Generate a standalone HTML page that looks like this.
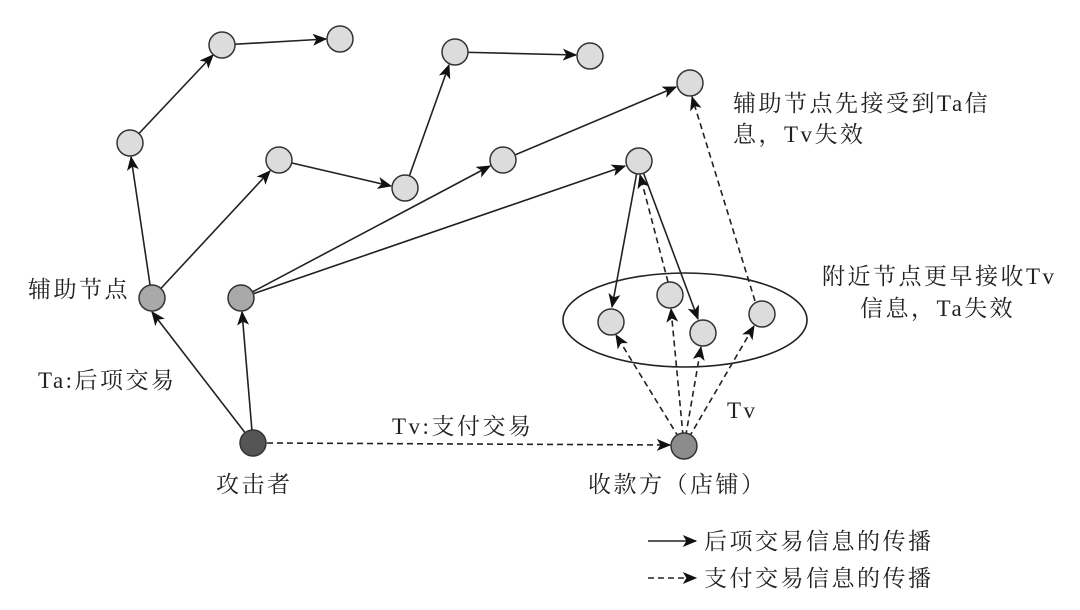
<!DOCTYPE html>
<html><head><meta charset="utf-8"><style>
html,body{margin:0;padding:0;background:#fff;}
svg{display:block}
text{font-family:"Liberation Serif","Noto Serif CJK SC",serif;font-size:23px;letter-spacing:2.5px;fill:#222}
</style></head><body>
<svg width="1080" height="610" viewBox="0 0 1080 610" xmlns="http://www.w3.org/2000/svg">
<defs>
<marker id="a" viewBox="0 0 12 10" refX="11" refY="5" markerWidth="15" markerHeight="12" markerUnits="userSpaceOnUse" orient="auto">
<path d="M0,0 L12,5 L0,10 L3,5 Z" fill="#111"/></marker>
</defs>
<g stroke="#222" stroke-width="1.6" fill="none" marker-end="url(#a)">
<line x1="253" y1="443" x2="152" y2="312"/>
<line x1="253" y1="443" x2="242" y2="312"/>
<line x1="152" y1="298" x2="131" y2="157"/>
<line x1="130" y1="143" x2="213" y2="55"/>
<line x1="222" y1="45" x2="326" y2="39"/>
<line x1="152" y1="298" x2="270" y2="171"/>
<line x1="279" y1="160" x2="391" y2="186"/>
<line x1="405" y1="188" x2="449" y2="65"/>
<line x1="455" y1="52" x2="576" y2="55"/>
<line x1="241" y1="298" x2="490" y2="166"/>
<line x1="503" y1="160" x2="676" y2="87"/>
<line x1="241" y1="298" x2="625" y2="166"/>
<line x1="639" y1="161" x2="612" y2="307"/>
<line x1="639" y1="161" x2="698" y2="319"/>
</g>
<g stroke="#222" stroke-width="1.6" fill="none" stroke-dasharray="6,4" marker-end="url(#a)">
<line x1="267" y1="443" x2="670" y2="445"/>
<line x1="684" y1="446" x2="616" y2="335"/>
<line x1="684" y1="446" x2="671" y2="309"/>
<line x1="684" y1="446" x2="701" y2="347"/>
<line x1="684" y1="446" x2="754" y2="326"/>
<line x1="668" y1="282" x2="640" y2="175"/>
<line x1="755" y1="301" x2="692" y2="97"/>
</g>
<ellipse cx="685" cy="320" rx="122" ry="47" fill="none" stroke="#222" stroke-width="1.6"/>
<g stroke="#333" stroke-width="1.5">
<g fill="#dcdcdc">
<circle cx="222" cy="45" r="13"/><circle cx="340" cy="39" r="13"/>
<circle cx="130" cy="143" r="13"/><circle cx="279" cy="160" r="13"/>
<circle cx="405" cy="188" r="13"/><circle cx="455" cy="52" r="13"/>
<circle cx="590" cy="56" r="13"/><circle cx="503" cy="160" r="13"/>
<circle cx="690" cy="83" r="13"/><circle cx="639" cy="161" r="13"/>
<circle cx="611" cy="322" r="13"/><circle cx="670" cy="295" r="13"/>
<circle cx="703" cy="333" r="13"/><circle cx="762" cy="314" r="13"/>
</g>
<circle cx="152" cy="298" r="13" fill="#a9a9a9"/>
<circle cx="241" cy="298" r="13" fill="#a9a9a9"/>
<circle cx="253" cy="443" r="13" fill="#555"/>
<circle cx="684" cy="446" r="13" fill="#8c8c8c"/>
</g>
<text x="28" y="297">辅助节点</text>
<text x="38" y="388">Ta:后项交易</text>
<text x="216" y="492">攻击者</text>
<text x="392" y="434">Tv:支付交易</text>
<text x="588" y="492">收款方（店铺）</text>
<text x="727" y="418">Tv</text>
<text x="733" y="111">辅助节点先接受到Ta信</text>
<text x="733" y="142">息，Tv失效</text>
<text x="822" y="284">附近节点更早接收Tv</text>
<text x="860" y="316">信息，Ta失效</text>
<line x1="648" y1="541" x2="696" y2="541" stroke="#222" stroke-width="1.6" marker-end="url(#a)"/>
<text x="704" y="549">后项交易信息的传播</text>
<line x1="648" y1="578" x2="696" y2="578" stroke="#222" stroke-width="1.6" stroke-dasharray="6,4" marker-end="url(#a)"/>
<text x="704" y="586">支付交易信息的传播</text>
</svg>
</body></html>
